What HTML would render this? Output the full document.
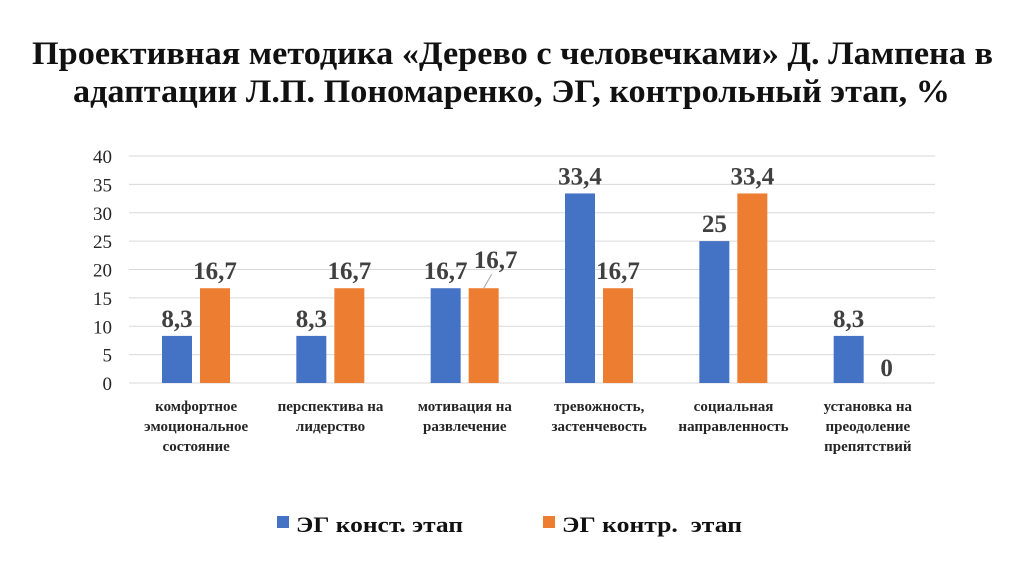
<!DOCTYPE html>
<html><head><meta charset="utf-8"><style>
body{margin:0;background:#fff;width:1024px;height:574px;overflow:hidden;font-family:"Liberation Serif","DejaVu Serif",serif}
</style></head><body>
<svg id="c" width="1024" height="574" xmlns="http://www.w3.org/2000/svg">
<text x="32" y="64" font-size="33" font-weight="bold" fill="#111" textLength="961" lengthAdjust="spacingAndGlyphs">Проективная методика «Дерево с человечками» Д. Лампена в</text>
<text x="73" y="102" font-size="33" font-weight="bold" fill="#111" textLength="877" lengthAdjust="spacingAndGlyphs">адаптации Л.П. Пономаренко, ЭГ, контрольный этап, %</text>
<g id="grid"></g><g id="bars"></g><g id="lbl"></g>
<g>
<rect x="277" y="516" width="12" height="12" fill="#4472C4"/>
<text x="296" y="532" font-size="22" font-weight="bold" fill="#111" textLength="167" lengthAdjust="spacingAndGlyphs">ЭГ конст. этап</text>
<rect x="543" y="516" width="12" height="12" fill="#ED7D31"/>
<text x="562" y="532" font-size="22" font-weight="bold" fill="#111" textLength="180" lengthAdjust="spacingAndGlyphs" xml:space="preserve">ЭГ контр.  этап</text>
</g>
</svg>
<script>
const categories=[["комфортное","эмоциональное","состояние"],["перспектива на","лидерство"],["мотивация на","развлечение"],["тревожность,","застенчевость"],["социальная","направленность"],["установка на","преодоление","препятствий"]];
const seriesConst=[8.3,8.3,16.7,33.4,25,8.3];
const seriesContr=[16.7,16.7,16.7,16.7,33.4,0];
const yTicks=[0,5,10,15,20,25,30,35,40];
const NS="http://www.w3.org/2000/svg";
const L=129,R=935,T=156,B=383,cw=(R-L)/6;
const y=v=>B-(v/40)*(B-T);
function mk(p,tag,at,txt){const e=document.createElementNS(NS,tag);for(const k in at)e.setAttribute(k,at[k]);if(txt!==undefined)e.textContent=txt;document.getElementById(p).appendChild(e);return e;}
yTicks.forEach(t=>{
 const g=mk('grid','line',{x1:L,x2:R,y1:y(t),y2:y(t),stroke:'#d9d9d9','stroke-width':1});
 
 
 const tl=mk('grid','text',{x:112,y:y(t)+7,'text-anchor':'end','font-size':19,fill:'#262626'},t);
 
 
});
const fmt=v=>String(v).replace('.',',');
categories.forEach((c,i)=>{
 const x0=L+i*cw;
 const bx=x0+33, ox=x0+71, w=30;
 const b=mk('bars','rect',{x:bx,y:y(seriesConst[i]),width:w,height:B-y(seriesConst[i]),fill:'#4472C4'});
 
 
 const o=mk('bars','rect',{x:ox,y:y(seriesContr[i]),width:w,height:B-y(seriesContr[i]),fill:'#ED7D31'});
 
 
 const lb=mk('lbl','text',{x:bx+w/2,y:y(seriesConst[i])-9,'text-anchor':'middle','font-size':25,'font-weight':'bold',fill:'#404040'},fmt(seriesConst[i]));
 
 
 let lx=ox+w/2, ly=y(seriesContr[i])-9;
 if(i===2){lx=ox+w/2+12;ly=y(seriesContr[i])-20;
  const ln=mk('lbl','line',{x1:ox+w/2,y1:y(seriesContr[i]),x2:ox+w/2+8,y2:y(seriesContr[i])-14,stroke:'#a6a6a6','stroke-width':1});
  
  }
 if(seriesContr[i]===0){ly=B-7;}
 const lo=mk('lbl','text',{x:lx,y:ly,'text-anchor':'middle','font-size':25,'font-weight':'bold',fill:'#404040'},fmt(seriesContr[i]));
 
 
 c.forEach((s,j)=>{
  const ct=mk('lbl','text',{x:x0+cw/2,y:411+j*20,'text-anchor':'middle','font-size':15,'font-weight':'bold',fill:'#262626'},s);
  
  
 });
});
</script>
</body></html>
